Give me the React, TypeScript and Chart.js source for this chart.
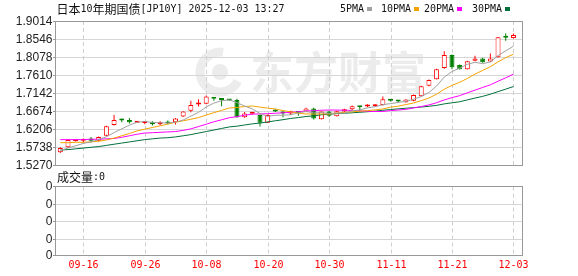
import React, { useEffect, useRef } from "react";
import { Chart, registerables } from "chart.js";

Chart.register(...registerables);

const titleText = "日本10年期国债[JP10Y] 2025-12-03 13:27";

const dates = [
  "09-11","09-12","09-15","09-16","09-17","09-18","09-19","09-22","09-23","09-24",
  "09-25","09-26","09-29","09-30","10-01","10-02","10-03","10-06","10-07","10-08",
  "10-09","10-10","10-13","10-14","10-15","10-16","10-17","10-20","10-21","10-22",
  "10-23","10-24","10-27","10-28","10-29","10-30","10-31","11-03","11-04","11-05",
  "11-06","11-07","11-10","11-11","11-12","11-13","11-14","11-17","11-18","11-19",
  "11-20","11-21","11-24","11-25","11-26","11-27","11-28","12-01","12-02","12-03",
];

const opens = [
  1.560,1.573,1.589,1.590,1.596,1.590,1.603,1.631,1.645,1.644,
  1.637,1.636,1.638,1.633,1.639,1.638,1.653,1.668,1.684,1.686,
  1.703,1.698,1.696,1.696,1.651,1.660,1.657,1.637,1.670,1.666,
  1.661,1.666,1.666,1.674,1.646,1.666,1.654,1.666,1.672,1.679,
  1.679,1.680,1.683,1.696,1.694,1.690,1.694,1.706,1.733,1.750,
  1.779,1.813,1.787,1.776,1.798,1.804,1.796,1.807,1.861,1.857,
];
const highs = [
  1.573,1.593,1.591,1.596,1.600,1.601,1.629,1.657,1.648,1.649,
  1.639,1.641,1.641,1.641,1.643,1.649,1.667,1.694,1.698,1.708,
  1.704,1.699,1.697,1.699,1.665,1.663,1.658,1.658,1.671,1.667,
  1.668,1.667,1.676,1.676,1.667,1.668,1.668,1.673,1.682,1.680,
  1.685,1.685,1.705,1.698,1.696,1.698,1.710,1.733,1.749,1.777,
  1.823,1.814,1.788,1.798,1.811,1.806,1.817,1.860,1.869,1.869,
];
const lows = [
  1.558,1.572,1.588,1.585,1.586,1.588,1.602,1.630,1.638,1.635,
  1.636,1.633,1.630,1.630,1.632,1.632,1.652,1.664,1.679,1.685,
  1.694,1.680,1.694,1.650,1.650,1.658,1.627,1.636,1.665,1.651,
  1.657,1.655,1.665,1.645,1.645,1.652,1.653,1.665,1.670,1.666,
  1.677,1.678,1.682,1.692,1.690,1.689,1.693,1.705,1.732,1.749,
  1.777,1.776,1.775,1.775,1.797,1.793,1.795,1.806,1.850,1.856,
];
const closes = [
  1.571,1.592,1.590,1.594,1.590,1.600,1.628,1.644,1.643,1.638,
  1.638,1.637,1.633,1.638,1.635,1.648,1.666,1.683,1.687,1.705,
  1.699,1.696,1.695,1.651,1.661,1.661,1.637,1.657,1.666,1.661,
  1.667,1.662,1.674,1.648,1.666,1.655,1.667,1.672,1.680,1.677,
  1.682,1.682,1.698,1.694,1.692,1.697,1.709,1.732,1.748,1.776,
  1.813,1.781,1.776,1.797,1.804,1.794,1.804,1.859,1.858,1.865,
];

const ma5 = [
  1.565,1.571,1.577,1.583,1.5872,1.5932,1.6004,1.6112,1.621,1.6306,
  1.6382,1.640,1.6378,1.6368,1.6362,1.6382,1.644,1.654,1.6638,1.6778,
  1.688,1.694,1.6964,1.6892,1.6804,1.6728,1.661,1.6534,1.6564,1.6564,
  1.6576,1.6626,1.666,1.6624,1.6634,1.661,1.662,1.6616,1.668,1.6702,
  1.6756,1.6786,1.6838,1.6866,1.6896,1.6926,1.698,1.7048,1.7156,1.7324,
  1.7556,1.770,1.7788,1.7886,1.7942,1.7904,1.795,1.8116,1.8238,1.836,
];
const ma10 = [
  1.585,1.585,1.586,1.586,1.587,1.589,1.592,1.597,1.603,1.6089,
  1.6157,1.6202,1.6245,1.6289,1.6334,1.6382,1.642,1.6459,1.6503,1.657,
  1.6631,1.669,1.6752,1.6765,1.6791,1.6804,1.6775,1.6749,1.6728,1.6684,
  1.6652,1.6618,1.6597,1.6594,1.6599,1.6593,1.6623,1.6638,1.6652,1.6668,
  1.6683,1.6703,1.6727,1.6773,1.6799,1.6841,1.6883,1.6943,1.7011,1.711,
  1.7241,1.734,1.7418,1.7521,1.7633,1.773,1.7825,1.7952,1.8062,1.8151,
];
const ma20 = [
  1.593,1.593,1.593,1.593,1.594,1.594,1.595,1.596,1.599,1.603,
  1.607,1.610,1.611,1.612,1.613,1.614,1.617,1.621,1.627,1.633,
  1.6394,1.6446,1.6499,1.6527,1.6563,1.6593,1.6598,1.6604,1.6616,1.6627,
  1.6642,1.6654,1.6675,1.668,1.6695,1.6699,1.6699,1.6694,1.669,1.6676,
  1.6668,1.666,1.6662,1.6684,1.6699,1.6717,1.6753,1.679,1.6832,1.6889,
  1.6962,1.7022,1.7073,1.7147,1.7216,1.7286,1.7354,1.7448,1.7537,1.763,
];
const ma30 = [
  1.566,1.567,1.569,1.571,1.573,1.575,1.578,1.581,1.584,1.587,
  1.590,1.593,1.595,1.597,1.598,1.600,1.603,1.606,1.610,1.614,
  1.618,1.622,1.626,1.628,1.631,1.634,1.636,1.639,1.642,1.6448,
  1.648,1.6503,1.6531,1.6549,1.6575,1.6593,1.6606,1.6615,1.6628,1.6641,
  1.6655,1.667,1.6692,1.6711,1.673,1.6746,1.676,1.6777,1.6797,1.6821,
  1.6859,1.6887,1.6914,1.6963,1.701,1.7055,1.711,1.7178,1.7242,1.731,
];

const priceTicks = [1.9014, 1.8546, 1.8078, 1.7610, 1.7142, 1.6674, 1.6206, 1.5738, 1.5270];
const xTickDates = ["09-16", "09-26", "10-08", "10-20", "10-30", "11-11", "11-21", "12-03"];
const volumeTicks = ["0", "0", "0", "0", "0"];
const lastVolume = 0;
const legendNames = ["5PMA", "10PMA", "20PMA", "30PMA"];

const UP = "#ff0000";
const DOWN = "#008000";
const MA_COLORS = ["#a0a0a0", "#f5a300", "#ff00ff", "#00703c"];
const BORDER = "#999999";
const GRID = "#d6d6d6";
const DASH = "#cfcfcf";

// layout (pixels)
const VOL_LINES = [186.5, 204.5, 221.5, 239.5, 255.5];
const LEGEND_X = [340, 381, 424, 472];

const isCJK = (ch: string) => /[\u3000-\u9fff\uff00-\uffef]/.test(ch);

function monoWidth(text: string) {
  let w = 0;
  for (const ch of text) w += isCJK(ch) ? 12 : 6;
  return w;
}

function drawMono(ctx: CanvasRenderingContext2D, text: string, x: number, y: number, align: string, color: string) {
  const w = monoWidth(text);
  let cx = align === "left" ? x : align === "center" ? x - w / 2 : x - w;
  ctx.fillStyle = color;
  ctx.textAlign = "left";
  ctx.textBaseline = "middle";
  for (const ch of text) {
    const cjk = isCJK(ch);
    const cw = cjk ? 12 : 6;
    ctx.font = cjk ? '12px "Noto Sans CJK SC"' : '11px "DejaVu Sans Mono"';
    const m = ctx.measureText(ch).width;
    const dx = m < cw ? (cw - m) / 2 : 0;
    ctx.fillText(ch, cx + dx, y, cw);
    cx += cw;
  }
}

const panelPlugin = {
  id: "panels",
  beforeDatasetsDraw(chart: any) {
    const { ctx, chartArea: a, scales } = chart;
    const xs = scales.x;
    const ys = scales.y;
    ctx.save();
    // watermark
    ctx.fillStyle = "rgba(0,0,0,0.075)";
    ctx.strokeStyle = "rgba(0,0,0,0.075)";
    ctx.font = 'bold 44px "Noto Sans CJK SC"';
    ctx.textBaseline = "middle";
    ctx.textAlign = "left";
    ctx.fillText("东方财富", 250, 72);
    ctx.lineWidth = 9;
    ctx.beginPath();
    ctx.arc(220, 72, 20, Math.PI * 0.15, Math.PI * 1.55);
    ctx.stroke();
    ctx.beginPath();
    ctx.arc(220, 72, 8, 0, Math.PI * 2);
    ctx.fill();

    // main horizontal grid
    ctx.lineWidth = 1;
    ctx.strokeStyle = GRID;
    priceTicks.forEach((v) => {
      const y = Math.round(ys.getPixelForValue(v)) + 0.5;
      ctx.beginPath();
      ctx.moveTo(a.left, y);
      ctx.lineTo(a.right, y);
      ctx.stroke();
    });
    // volume horizontal grid
    VOL_LINES.forEach((y) => {
      ctx.beginPath();
      ctx.moveTo(a.left, y);
      ctx.lineTo(a.right, y);
      ctx.stroke();
    });
    // vertical dashed lines
    ctx.strokeStyle = DASH;
    ctx.setLineDash([4, 3]);
    xTickDates.forEach((d) => {
      const i = dates.indexOf(d);
      const x = Math.round(xs.getPixelForValue(i)) + 0.5;
      ctx.beginPath();
      ctx.moveTo(x, a.top);
      ctx.lineTo(x, a.bottom);
      ctx.stroke();
      ctx.beginPath();
      ctx.moveTo(x, VOL_LINES[0]);
      ctx.lineTo(x, VOL_LINES[VOL_LINES.length - 1]);
      ctx.stroke();
    });
    ctx.setLineDash([]);
    ctx.restore();
  },
  afterDraw(chart: any) {
    const { ctx, chartArea: a, scales } = chart;
    const xs = scales.x;
    const ys = scales.y;
    ctx.save();
    ctx.lineWidth = 1;
    ctx.strokeStyle = BORDER;
    const L = Math.round(a.left) + 0.5;
    const R = Math.round(a.right) + 0.5;
    const T = Math.round(a.top) + 0.5;
    const B = Math.round(a.bottom) + 0.5;
    ctx.strokeRect(L, T, R - L, B - T);
    const VT = VOL_LINES[0];
    const VB = VOL_LINES[VOL_LINES.length - 1];
    ctx.strokeRect(L, VT, R - L, VB - VT);

    // y labels main
    ctx.font = '12px "Liberation Sans"';
    ctx.textAlign = "right";
    ctx.textBaseline = "middle";
    ctx.fillStyle = "#222";
    priceTicks.forEach((v) => {
      const y = Math.round(ys.getPixelForValue(v)) + 0.5;
      ctx.fillText(v.toFixed(4), 52.5, y + 0.5);
      ctx.beginPath();
      ctx.moveTo(L - 2.5, y);
      ctx.lineTo(L, y);
      ctx.stroke();
    });
    // volume labels
    VOL_LINES.forEach((y, k) => {
      ctx.fillText(volumeTicks[k], 52.5, y + 0.5);
      ctx.beginPath();
      ctx.moveTo(L - 2.5, y);
      ctx.lineTo(L, y);
      ctx.stroke();
    });

    // title
    drawMono(ctx, titleText, 56.5, 9.5, "left", "#111");
    // legend
    legendNames.forEach((n, k) => {
      const x0 = LEGEND_X[k];
      drawMono(ctx, n, x0, 9.5, "left", "#111");
      const sx = x0 + monoWidth(n) + 3;
      ctx.fillStyle = MA_COLORS[k];
      ctx.fillRect(sx, 7, 5, 4);
    });
    // volume caption
    drawMono(ctx, "成交量:" + lastVolume, 57, 177.5, "left", "#111");
    // x labels
    xTickDates.forEach((d) => {
      const i = dates.indexOf(d);
      const x = Math.round(xs.getPixelForValue(i)) + 0.5;
      drawMono(ctx, d, x, 265.5, "center", "#ff0000");
    });
    ctx.restore();
  },
};

export default function App() {
  const ref = useRef<HTMLCanvasElement | null>(null);
  useEffect(() => {
    const canvas = ref.current;
    if (!canvas) return;
    const up = dates.map((_, i) => closes[i] >= opens[i]);
    const lineDs = (data: number[], color: string) => ({
      type: "line" as const,
      data: data.map((v, i) => ({ x: i, y: v })),
      borderColor: color,
      borderWidth: 1,
      pointRadius: 0,
      tension: 0,
      fill: false,
      order: 0,
    });
    const chart = new Chart(canvas, {
      type: "bar",
      data: {
        datasets: [
          {
            type: "bar",
            data: dates.map((_, i) => ({ x: i, y: [lows[i], highs[i]] })) as any,
            backgroundColor: up.map((u) => (u ? UP : DOWN)),
            borderWidth: 0,
            barThickness: 1,
            grouped: false,
            inflateAmount: 0,
            order: 2,
          } as any,
          {
            type: "bar",
            data: dates.map((_, i) => ({ x: i, y: [opens[i], closes[i]] })) as any,
            backgroundColor: up.map((u) => (u ? "#ffffff" : DOWN)),
            borderColor: up.map((u) => (u ? UP : DOWN)),
            borderWidth: 1,
            borderSkipped: false,
            barThickness: 5,
            minBarLength: 2,
            grouped: false,
            inflateAmount: 0,
            order: 1,
          } as any,
          lineDs(ma5, MA_COLORS[0]),
          lineDs(ma10, MA_COLORS[1]),
          lineDs(ma20, MA_COLORS[2]),
          lineDs(ma30, MA_COLORS[3]),
        ] as any,
      },
      options: {
        animation: false,
        responsive: false,
        devicePixelRatio: 1,
        events: [],
        layout: { padding: { left: 55, right: 56, top: 21, bottom: 111 } },
        plugins: { legend: { display: false }, tooltip: { enabled: false } },
        scales: {
          x: { type: "linear", min: -0.69, max: 60.12, offset: false, display: false },
          y: { type: "linear", min: 1.527, max: 1.9014, display: false },
        },
      } as any,
      plugins: [panelPlugin],
    });
    return () => chart.destroy();
  }, []);
  return (
    <div style={{ position: "absolute", left: 0, top: 0, width: 578, height: 276, background: "#fff" }}>
      <canvas ref={ref} width={578} height={276} style={{ display: "block", width: 578, height: 276 }} />
    </div>
  );
}
